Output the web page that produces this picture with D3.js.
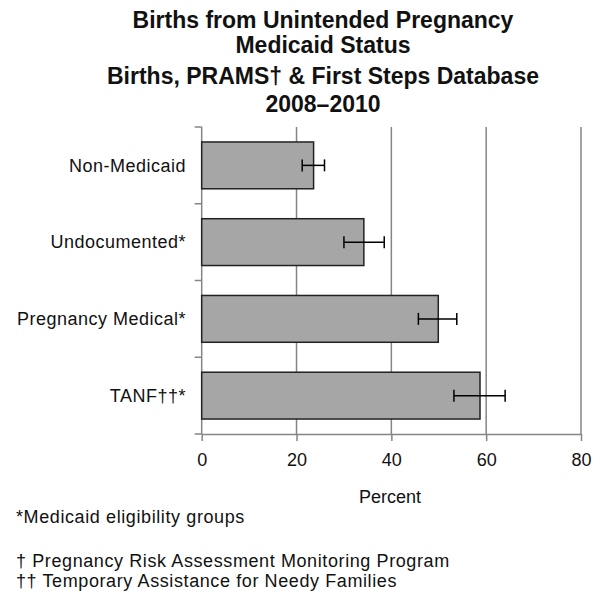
<!DOCTYPE html>
<html>
<head>
<meta charset="utf-8">
<script src="https://cdn.jsdelivr.net/npm/d3@7"></script>
<style>
  body { margin: 0; background: #fff; }
  text { font-family: "Liberation Sans", Arial, sans-serif; fill: #111; }
</style>
</head>
<body>
<script>
// donnees
const categories = ["Non-Medicaid", "Undocumented*", "Pregnancy Medical*", "TANF\u2020\u2020*"];
const values = [23.6, 34.2, 49.9, 58.7];
const lower = [21.2, 30.0, 45.7, 53.2];
const upper = [25.9, 38.5, 53.8, 64.0];
const xTicks = [0, 20, 40, 60, 80];
const titleLines = ["Births from Unintended Pregnancy", "Medicaid Status",
                    "Births, PRAMS\u2020 & First Steps Database", "2008\u20132010"];
const notes = ["*Medicaid eligibility groups", "\u2020 Pregnancy Risk Assessment Monitoring Program",
               "\u2020\u2020 Temporary Assistance for Needy Families"];

var svg = d3.select("body")
            .append("svg")
            .attr("width", 601)
            .attr("height", 594)

var x = d3.scaleLinear().domain([0, 80]).range([201.7, 581])
var y = d3.scaleBand().domain(categories).range([127, 434])
          .paddingInner(0.39).paddingOuter(0.195)

// titre
var titleY = [28, 53, 84, 112]
svg.selectAll(".title")
   .data(titleLines)
   .enter()
   .append("text")
   .attr("class", "title")
   .attr("x", 323)
   .attr("y", (d, i) => titleY[i])
   .attr("text-anchor", "middle")
   .style("font-size", "23px")
   .style("font-weight", "bold")
   .text(d => d)

// grille verticale
svg.selectAll(".grid")
   .data(xTicks.slice(1))
   .enter()
   .append("line")
   .attr("x1", d => x(d)).attr("x2", d => x(d))
   .attr("y1", 127).attr("y2", 434)
   .attr("stroke", "#858585")
   .attr("stroke-width", 1.5)

// axe x
var xAxis = svg.append("g")
               .attr("transform", "translate(0,434)")
               .call(d3.axisBottom(x).tickValues(xTicks).tickSize(7).tickSizeOuter(0))
xAxis.select(".domain").attr("stroke", "#858585").attr("stroke-width", 1.5)
xAxis.selectAll(".tick line").attr("stroke", "#858585").attr("stroke-width", 1.5)
xAxis.selectAll(".tick text")
     .attr("y", 32).attr("dy", null)
     .style("font-size", "18px")
     .style("font-family", "'Liberation Sans', Arial, sans-serif")
     .attr("fill", "#111")

// axe y
var step = y.step()
var gap = step - y.bandwidth()
var yTickPos = categories.map(c => y(c) - gap / 2).concat([434])
svg.append("line")
   .attr("x1", x(0)).attr("x2", x(0))
   .attr("y1", 127).attr("y2", 434)
   .attr("stroke", "#858585").attr("stroke-width", 1.5)
svg.selectAll(".ytick")
   .data(yTickPos)
   .enter()
   .append("line")
   .attr("x1", x(0) - 7).attr("x2", x(0))
   .attr("y1", d => d).attr("y2", d => d)
   .attr("stroke", "#858585").attr("stroke-width", 1.5)

svg.selectAll(".ylab")
   .data(categories)
   .enter()
   .append("text")
   .attr("x", 186)
   .attr("y", d => y(d) + y.bandwidth() / 2)
   .attr("dy", "0.35em")
   .attr("text-anchor", "end")
   .style("font-size", "18px")
   .style("letter-spacing", "0.5px")
   .text(d => d)

// barres
svg.selectAll(".bar")
   .data(values)
   .enter()
   .append("rect")
   .attr("x", x(0))
   .attr("y", (d, i) => y(categories[i]))
   .attr("width", d => x(d) - x(0))
   .attr("height", y.bandwidth())
   .attr("fill", "#a6a6a6")
   .attr("stroke", "#222")
   .attr("stroke-width", 1.5)

// barres d'erreur
var err = svg.append("g").attr("stroke", "#000").attr("stroke-width", 1.5)
categories.forEach((c, i) => {
    var cy = y(c) + y.bandwidth() / 2
    err.append("line").attr("x1", x(lower[i])).attr("x2", x(upper[i])).attr("y1", cy).attr("y2", cy)
    err.append("line").attr("x1", x(lower[i])).attr("x2", x(lower[i])).attr("y1", cy - 6).attr("y2", cy + 6)
    err.append("line").attr("x1", x(upper[i])).attr("x2", x(upper[i])).attr("y1", cy - 6).attr("y2", cy + 6)
})

// titre axe
svg.append("text")
   .attr("x", 390).attr("y", 503)
   .attr("text-anchor", "middle")
   .style("font-size", "18px")
   .text("Percent")

// notes
var noteY = [523, 567, 587]
svg.selectAll(".note")
   .data(notes)
   .enter()
   .append("text")
   .attr("x", 16)
   .attr("y", (d, i) => noteY[i])
   .style("font-size", "18px")
   .style("letter-spacing", "0.6px")
   .text(d => d)
</script>
</body>
</html>
